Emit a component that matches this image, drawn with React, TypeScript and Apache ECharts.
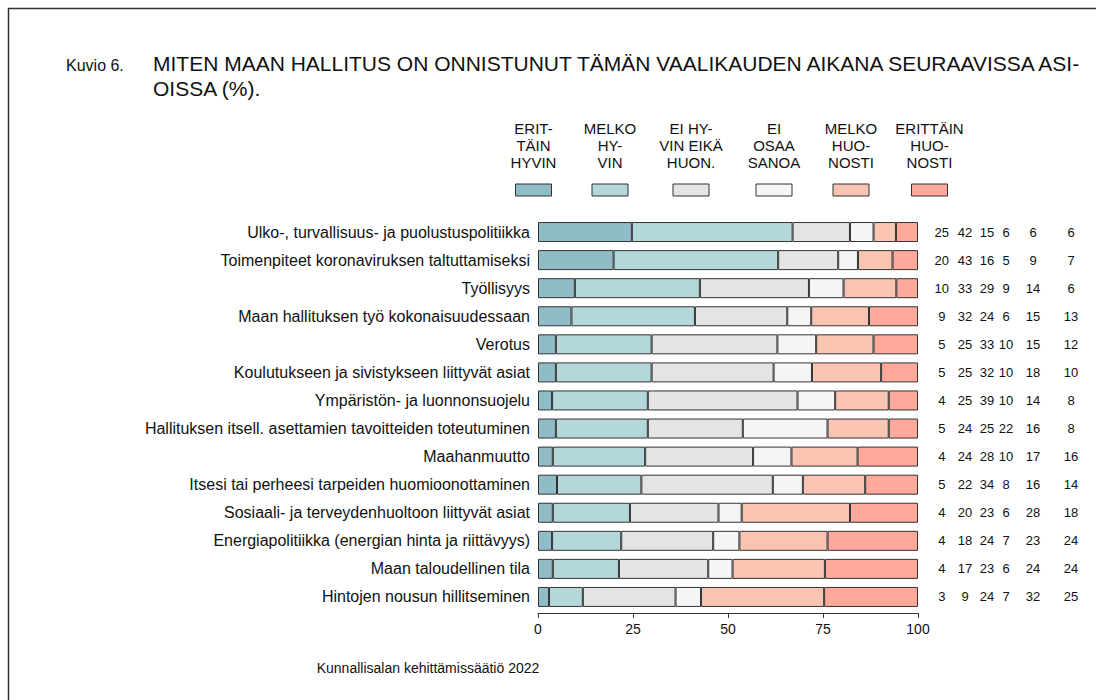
import React, { useEffect, useRef } from "react";
import * as echarts from "echarts";

const categories = [
  "Ulko-, turvallisuus- ja puolustuspolitiikka",
  "Toimenpiteet koronaviruksen taltuttamiseksi",
  "Työllisyys",
  "Maan hallituksen työ kokonaisuudessaan",
  "Verotus",
  "Koulutukseen ja sivistykseen liittyvät asiat",
  "Ympäristön- ja luonnonsuojelu",
  "Hallituksen itsell. asettamien tavoitteiden toteutuminen",
  "Maahanmuutto",
  "Itsesi tai perheesi tarpeiden huomioonottaminen",
  "Sosiaali- ja terveydenhuoltoon liittyvät asiat",
  "Energiapolitiikka (energian hinta ja riittävyys)",
  "Maan taloudellinen tila",
  "Hintojen nousun hillitseminen",
];

const seriesNames = [
  "Erittäin hyvin",
  "Melko hyvin",
  "Ei hyvin eikä huonosti",
  "Ei osaa sanoa",
  "Melko huonosti",
  "Erittäin huonosti",
];

const legendLabels = [
  "ERIT-\nTÄIN\nHYVIN",
  "MELKO\nHY-\nVIN",
  "EI HY-\nVIN EIKÄ\nHUON.",
  "EI\nOSAA\nSANOA",
  "MELKO\nHUO-\nNOSTI",
  "ERITTÄIN\nHUO-\nNOSTI",
];

// bar segment values (%)
const erittainHyvin = [24.7, 19.9, 9.7, 8.8, 4.7, 4.7, 3.7, 4.7, 3.9, 5.0, 3.9, 3.7, 3.9, 2.9];
const melkoHyvin = [42.3, 43.3, 32.9, 32.5, 25.2, 25.2, 25.2, 24.2, 24.3, 22.2, 20.3, 18.2, 17.4, 8.9];
const eiHyvinEikaHuon = [15.1, 15.8, 28.7, 24.3, 33.1, 32.1, 39.4, 25.0, 28.4, 34.6, 23.3, 24.2, 23.5, 24.4];
const eiOsaaSanoa = [6.2, 5.2, 9.1, 6.3, 10.2, 10.1, 9.9, 22.3, 10.1, 7.9, 6.1, 6.9, 6.4, 6.7];
const melkoHuonosti = [5.9, 9.1, 13.9, 15.2, 15.1, 18.2, 14.1, 16.1, 17.4, 16.4, 28.5, 23.2, 24.3, 32.4];
const erittainHuonosti = [5.8, 6.7, 5.7, 12.9, 11.7, 9.7, 7.7, 7.7, 15.9, 13.9, 17.9, 23.8, 24.5, 24.7];

// printed (rounded) values in the right-hand column
const lblErittainHyvin = [25, 20, 10, 9, 5, 5, 4, 5, 4, 5, 4, 4, 4, 3];
const lblMelkoHyvin = [42, 43, 33, 32, 25, 25, 25, 24, 24, 22, 20, 18, 17, 9];
const lblEiHyvin = [15, 16, 29, 24, 33, 32, 39, 25, 28, 34, 23, 24, 23, 24];
const lblEiOsaa = [6, 5, 9, 6, 10, 10, 10, 22, 10, 8, 6, 7, 6, 7];
const lblMelkoHuon = [6, 9, 14, 15, 15, 18, 14, 16, 17, 16, 28, 23, 24, 32];
const lblErittainHuon = [6, 7, 6, 13, 12, 10, 8, 8, 16, 14, 18, 24, 24, 25];

const xTicks = [0, 25, 50, 75, 100];

const colors = ["#8fbcc7", "#b4d7da", "#e4e4e4", "#f5f5f5", "#f9c4b2", "#fea99b"];

const FONT = "'Liberation Sans', Arial, Helvetica, sans-serif";

export default function App() {
  const ref = useRef<HTMLDivElement>(null);

  useEffect(() => {
    if (!ref.current) return;
    const chart = echarts.init(ref.current, undefined, { renderer: "svg" });

    const seriesValues = [
      erittainHyvin,
      melkoHyvin,
      eiHyvinEikaHuon,
      eiOsaaSanoa,
      melkoHuonosti,
      erittainHuonosti,
    ];
    const labelCols = [lblErittainHyvin, lblMelkoHyvin, lblEiHyvin, lblEiOsaa, lblMelkoHuon, lblErittainHuon];
    const colWidths = [23.5, 23, 21, 17, 37, 39];

    const legendCenters = [533.5, 610, 691, 774, 851, 929.5];
    const graphics: any[] = [
      { type: "line", shape: { x1: 8, y1: 8.5, x2: 1096, y2: 8.5 }, style: { stroke: "#333", lineWidth: 1.5 } },
      { type: "line", shape: { x1: 8.5, y1: 8, x2: 8.5, y2: 700 }, style: { stroke: "#333", lineWidth: 1.5 } },
      {
        type: "text",
        x: 66,
        y: 65,
        style: { text: "Kuvio 6.", fill: "#111", fontSize: 16, fontFamily: FONT, textVerticalAlign: "middle" },
      },
      {
        type: "text",
        x: 153,
        y: 63,
        style: {
          text: "MITEN MAAN HALLITUS ON ONNISTUNUT TÄMÄN VAALIKAUDEN AIKANA SEURAAVISSA ASI-",
          fill: "#111",
          fontSize: 21,
          fontFamily: FONT,
          textVerticalAlign: "middle",
        },
      },
      {
        type: "text",
        x: 153,
        y: 88,
        style: { text: "OISSA (%).", fill: "#111", fontSize: 21, fontFamily: FONT, textVerticalAlign: "middle" },
      },
      {
        type: "text",
        x: 428,
        y: 668,
        style: {
          text: "Kunnallisalan kehittämissäätiö 2022",
          fill: "#111",
          fontSize: 14,
          fontFamily: FONT,
          textAlign: "center",
          textVerticalAlign: "middle",
        },
      },
    ];
    legendLabels.forEach((t, i) => {
      graphics.push({
        type: "text",
        x: legendCenters[i],
        y: 120,
        style: {
          text: t,
          fill: "#111",
          fontSize: 15,
          lineHeight: 17,
          fontFamily: FONT,
          textAlign: "center",
          textVerticalAlign: "top",
        },
      });
      graphics.push({
        type: "rect",
        shape: { x: legendCenters[i] - 18, y: 184, width: 36, height: 12 },
        style: { fill: colors[i], stroke: "#333", lineWidth: 1 },
      });
    });

    const rich: any = {};
    colWidths.forEach((w, i) => {
      rich["c" + i] = { width: w, align: "center", fontSize: 13, fontFamily: FONT, color: "#111" };
    });

    chart.setOption({
      animation: false,
      textStyle: { fontFamily: FONT },
      grid: { left: 538, right: 178, top: 218, height: 393, containLabel: false },
      xAxis: {
        type: "value",
        min: xTicks[0],
        max: xTicks[xTicks.length - 1],
        interval: 25,
        offset: 2,
        axisLine: { show: true, lineStyle: { color: "#333", width: 1 } },
        axisTick: { show: true, length: 5, lineStyle: { color: "#333" } },
        axisLabel: { fontSize: 14, color: "#111", margin: 9, fontFamily: FONT },
        splitLine: { show: false },
      },
      yAxis: [
        {
          type: "category",
          data: categories,
          inverse: true,
          axisLine: { show: false },
          axisTick: { show: false },
          axisLabel: { fontSize: 16, color: "#111", margin: 8, fontFamily: FONT },
        },
        {
          type: "category",
          data: categories,
          inverse: true,
          position: "right",
          axisLine: { show: false },
          axisTick: { show: false },
          axisLabel: {
            margin: 12,
            formatter: (_v: string, idx: number) =>
              labelCols.map((col, i) => `{c${i}|${col[idx]}}`).join(""),
            rich,
          },
        },
      ],
      series: seriesNames.map((name, i) => ({
        name,
        type: "bar",
        stack: "total",
        yAxisIndex: 0,
        barWidth: 20,
        data: seriesValues[i],
        itemStyle: { color: colors[i], borderColor: "#333", borderWidth: 1 },
      })),
      graphic: graphics,
    });

    return () => chart.dispose();
  }, []);

  return (
    <div
      ref={ref}
      style={{ position: "fixed", left: 0, top: 0, width: 1096, height: 700, background: "#fff" }}
    />
  );
}
